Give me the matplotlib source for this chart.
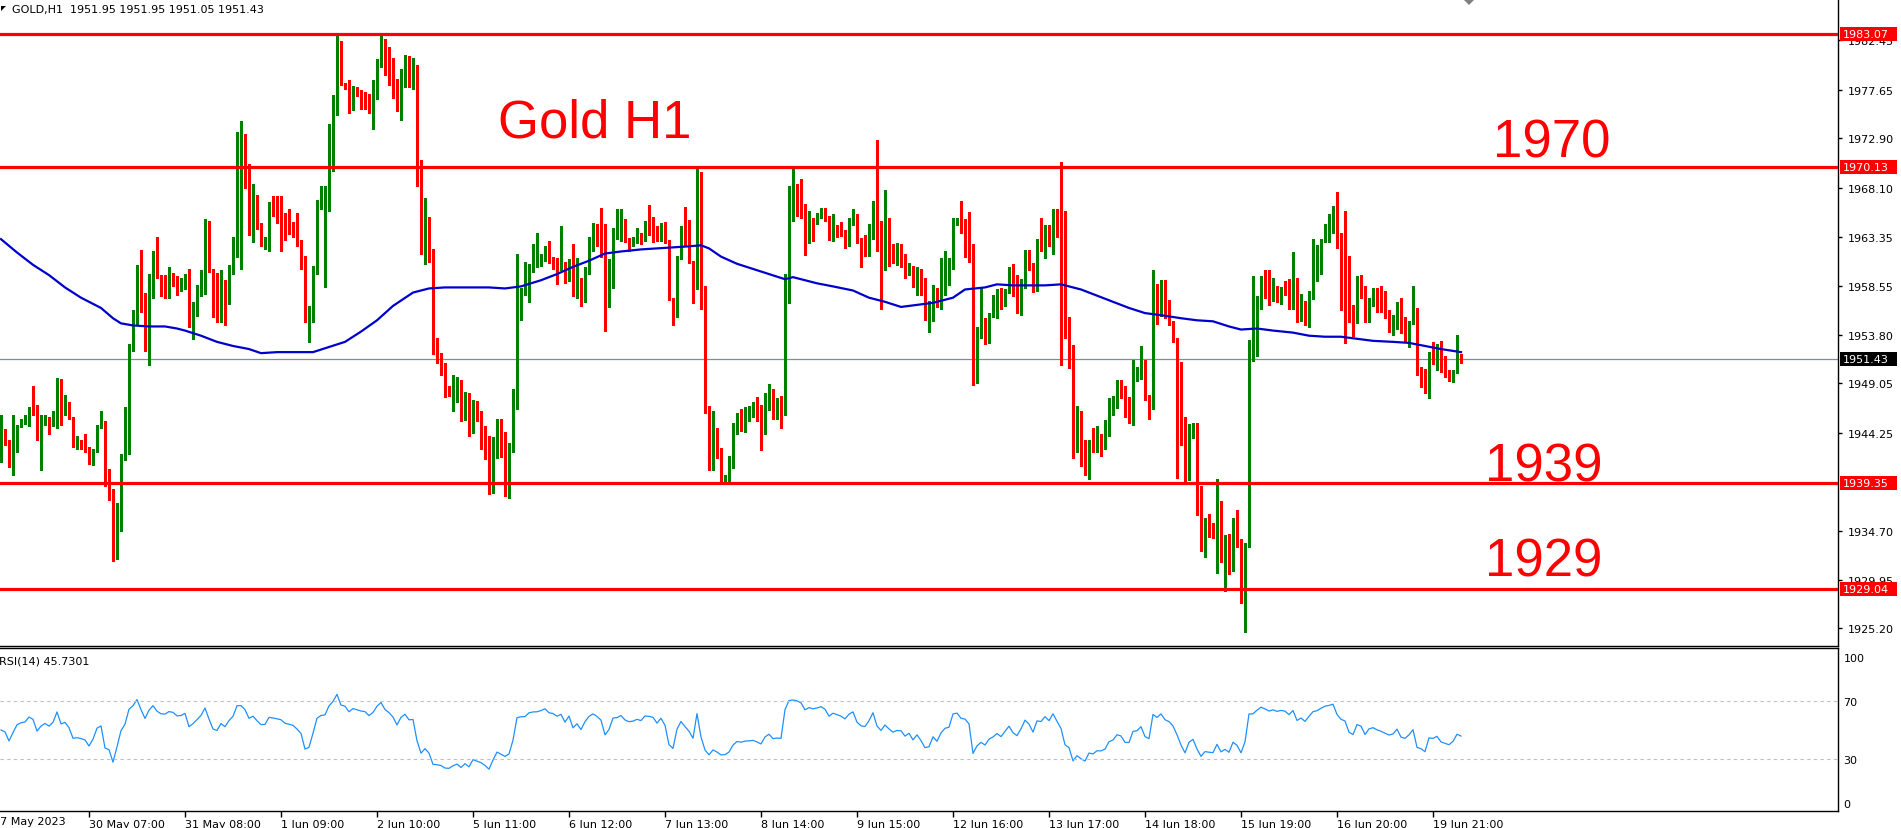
import numpy as np
import matplotlib.pyplot as plt
from matplotlib.patches import Polygon, Rectangle

# ---- data (GOLD, H1) ----
first_open = 1942.9

closes = [
    1943.9, 1943.5, 1941.4, 1943.1, 1944.9, 1945.4, 1945.6, 1946.8, 1946.4, 1944.1,
    1945.2, 1945.8, 1945.3, 1946.1, 1948.7, 1946.4, 1946.8, 1945.7, 1943.2, 1943.3,
    1943.1, 1942.8, 1941.3, 1942.5, 1944.7, 1945.2, 1939.3, 1938.7, 1933.1, 1936.9,
    1942.2, 1944.8, 1952.8, 1955.2, 1960.0, 1956.2, 1952.4, 1958.2, 1961.9, 1959.5,
    1958.3, 1958.2, 1959.8, 1959.5, 1958.2, 1958.4, 1959.5, 1954.6, 1956.0, 1957.9,
    1960.0, 1964.3, 1960.2, 1955.8, 1955.1, 1958.5, 1957.1, 1960.2, 1962.6, 1969.7,
    1969.8, 1968.3, 1964.9, 1966.1, 1964.3, 1962.7, 1962.8, 1966.2, 1966.0, 1965.7,
    1965.4, 1964.3, 1964.0, 1963.7, 1962.6, 1961.3, 1955.3, 1955.8, 1960.1, 1966.4,
    1967.8, 1968.1, 1973.1, 1976.1, 1981.9, 1978.2, 1977.8, 1975.8, 1977.8, 1977.4,
    1977.0, 1976.8, 1975.6, 1977.1, 1980.2, 1982.4, 1980.4, 1979.5, 1978.2, 1975.7,
    1978.9, 1980.3, 1978.6, 1978.7, 1970.6, 1963.2, 1964.9, 1961.9, 1952.0, 1951.6,
    1950.8, 1948.2, 1947.9, 1948.7, 1949.2, 1946.3, 1947.4, 1944.8, 1946.9, 1945.8,
    1944.8, 1942.7, 1939.7, 1942.2, 1944.6, 1943.3, 1942.0, 1942.7, 1947.0, 1957.4,
    1957.9, 1958.0, 1960.1, 1960.6, 1960.7, 1961.3, 1962.2, 1961.1, 1960.9, 1960.2,
    1960.9, 1958.9, 1961.1, 1957.7, 1959.1, 1957.3, 1960.1, 1962.2, 1963.3, 1962.6,
    1961.6, 1956.9, 1958.7, 1963.3, 1963.5, 1964.4, 1963.1, 1962.6, 1962.8, 1963.4,
    1963.1, 1964.6, 1964.5, 1964.3, 1963.1, 1964.4, 1962.9, 1957.3, 1955.9, 1961.4,
    1964.3, 1962.6, 1961.0, 1958.3, 1969.4, 1957.4, 1946.9, 1941.9, 1944.6, 1942.5,
    1939.7, 1939.8, 1941.0, 1944.3, 1946.1, 1945.6, 1946.1, 1946.2, 1946.4, 1945.6,
    1944.6, 1947.1, 1948.1, 1946.2, 1946.4, 1946.3, 1959.3, 1966.5, 1967.0, 1966.7,
    1966.0, 1963.6, 1965.0, 1964.6, 1965.1, 1965.8, 1965.1, 1963.1, 1964.4, 1964.0,
    1963.6, 1962.9, 1964.6, 1965.5, 1962.9, 1961.9, 1961.7, 1963.5, 1966.3, 1962.7,
    1961.3, 1963.1, 1961.9, 1960.9, 1961.4, 1961.3, 1959.8, 1960.5, 1958.6, 1959.8,
    1958.1, 1955.7, 1955.9, 1958.2, 1956.8, 1958.9, 1960.2, 1960.5, 1964.8, 1965.1,
    1963.9, 1963.7, 1962.6, 1951.8, 1954.1, 1955.2, 1954.0, 1955.8, 1956.5, 1957.6,
    1956.5, 1958.1, 1959.8, 1957.7, 1956.7, 1958.8, 1961.9, 1960.7, 1958.1, 1962.3,
    1962.1, 1964.1, 1962.9, 1965.8, 1963.5, 1961.1, 1953.9, 1952.3, 1942.9, 1944.8,
    1942.4, 1940.4, 1943.3, 1942.7, 1943.8, 1943.7, 1944.3, 1946.7, 1947.3, 1949.1,
    1948.6, 1946.0, 1945.9, 1949.5, 1949.7, 1951.1, 1947.6, 1946.8, 1956.9, 1955.8,
    1957.7, 1955.6, 1954.9, 1953.3, 1949.7, 1944.6, 1939.6, 1943.8, 1945.1, 1939.0,
    1933.1, 1935.1, 1934.6, 1934.3, 1937.6, 1932.4, 1933.4, 1931.4, 1935.5, 1933.6,
    1928.3, 1933.2, 1952.6, 1952.8, 1956.3, 1959.3, 1958.4, 1957.3, 1958.3, 1957.6,
    1958.3, 1958.0, 1956.6, 1959.2, 1955.1, 1956.5, 1955.1, 1957.9, 1960.8, 1961.4,
    1962.9, 1964.2, 1964.7, 1965.4, 1962.3, 1960.7, 1960.1, 1956.0, 1955.0, 1959.0,
    1958.4, 1955.1, 1957.3, 1957.8, 1957.0, 1956.5, 1955.8, 1955.2, 1955.5, 1956.9,
    1954.4, 1954.0, 1954.9, 1956.3, 1950.1, 1949.5, 1948.2, 1952.0, 1951.8, 1952.4,
    1950.4, 1949.9, 1949.4, 1950.2, 1951.95, 1951.43,
]

highs = [
    1946.0, 1944.6, 1943.5, 1946.0, 1945.0, 1945.6, 1946.0, 1946.8, 1948.8, 1947.0,
    1946.0, 1946.0, 1945.8, 1946.4, 1949.6, 1949.5, 1947.9, 1947.2, 1945.8, 1943.9,
    1943.5, 1944.1, 1942.9, 1942.7, 1945.0, 1946.4, 1945.4, 1940.7, 1938.8, 1937.4,
    1942.2, 1946.8, 1952.9, 1956.2, 1960.6, 1962.0, 1957.9, 1959.7, 1961.9, 1963.3,
    1959.6, 1959.6, 1960.4, 1959.8, 1959.3, 1959.3, 1959.7, 1960.2, 1957.0, 1958.6,
    1960.1, 1965.1, 1964.9, 1960.2, 1959.8, 1960.1, 1959.1, 1960.6, 1963.3, 1973.5,
    1974.6, 1973.3, 1970.4, 1968.5, 1967.4, 1964.7, 1963.3, 1966.7, 1967.3, 1967.3,
    1967.3, 1965.6, 1966.0, 1964.8, 1965.6, 1963.0, 1961.5, 1956.6, 1960.5, 1966.9,
    1968.3, 1968.3, 1974.3, 1977.1, 1982.9, 1982.4, 1978.3, 1978.6, 1978.0, 1977.9,
    1977.6, 1977.4, 1977.2, 1978.6, 1980.6, 1983.2, 1982.6, 1981.8, 1980.7, 1978.7,
    1979.7, 1981.0, 1980.9, 1980.7, 1980.1, 1970.8, 1967.1, 1965.3, 1962.1, 1953.5,
    1952.0, 1951.0, 1948.8, 1949.9, 1949.7, 1949.4, 1948.2, 1948.1, 1947.4, 1947.3,
    1946.4, 1944.9, 1943.9, 1943.8, 1945.6, 1945.6, 1944.3, 1943.3, 1948.5, 1961.7,
    1958.3, 1960.9, 1960.7, 1962.6, 1963.7, 1961.7, 1962.4, 1962.9, 1961.4, 1961.3,
    1964.4, 1960.9, 1961.2, 1962.6, 1961.3, 1959.3, 1960.4, 1963.3, 1964.7, 1964.6,
    1966.1, 1964.6, 1961.2, 1964.2, 1966.0, 1966.0, 1965.1, 1963.2, 1963.3, 1964.2,
    1963.7, 1964.9, 1966.4, 1965.3, 1964.4, 1964.7, 1964.8, 1963.0, 1957.4, 1961.5,
    1964.4, 1966.2, 1965.0, 1961.0, 1969.9, 1969.6, 1958.5, 1946.9, 1946.4, 1944.7,
    1942.8, 1940.1, 1942.0, 1945.2, 1946.2, 1946.6, 1946.8, 1946.9, 1947.2, 1947.7,
    1947.0, 1948.1, 1949.0, 1948.5, 1947.6, 1947.8, 1959.7, 1968.3, 1970.0, 1968.5,
    1969.0, 1966.5, 1965.8, 1965.2, 1965.6, 1966.1, 1966.1, 1965.4, 1965.5, 1964.5,
    1964.8, 1964.0, 1965.2, 1966.0, 1965.5, 1963.2, 1963.5, 1964.6, 1966.8, 1972.8,
    1964.9, 1967.9, 1965.2, 1962.6, 1962.7, 1962.6, 1961.7, 1960.8, 1960.4, 1960.4,
    1960.2, 1959.3, 1957.1, 1958.6, 1958.3, 1961.3, 1961.9, 1961.3, 1965.2, 1965.2,
    1966.8, 1965.1, 1965.7, 1962.6, 1954.5, 1958.4, 1955.4, 1955.9, 1957.7, 1958.2,
    1958.3, 1958.2, 1960.4, 1960.7, 1959.6, 1959.2, 1962.0, 1962.0, 1960.8, 1963.1,
    1965.2, 1964.5, 1964.5, 1966.0, 1966.0, 1970.6, 1965.8, 1955.5, 1952.8, 1946.9,
    1946.4, 1943.5, 1943.5, 1944.7, 1944.9, 1944.1, 1945.5, 1947.6, 1947.8, 1949.4,
    1949.4, 1948.8, 1947.7, 1951.3, 1950.7, 1952.7, 1951.3, 1947.9, 1960.1, 1958.7,
    1959.1, 1959.1, 1957.2, 1955.1, 1953.5, 1951.1, 1945.8, 1945.1, 1945.2, 1945.2,
    1939.1, 1936.0, 1936.3, 1935.5, 1939.7, 1937.6, 1934.3, 1934.4, 1936.0, 1936.7,
    1933.9, 1933.5, 1953.3, 1959.5, 1957.6, 1959.5, 1960.1, 1960.1, 1959.3, 1958.5,
    1958.4, 1959.0, 1959.2, 1961.8, 1959.3, 1957.8, 1957.1, 1958.1, 1963.1, 1962.5,
    1963.1, 1964.6, 1965.5, 1966.3, 1967.7, 1963.7, 1965.8, 1961.5, 1956.7, 1959.5,
    1959.6, 1958.5, 1957.4, 1958.3, 1958.3, 1958.5, 1958.1, 1956.2, 1955.7, 1957.0,
    1957.4, 1955.5, 1955.1, 1958.5, 1956.4, 1950.7, 1950.5, 1952.1, 1953.1, 1952.9,
    1953.2, 1951.7, 1950.4, 1950.4, 1953.8, 1951.95,
]

lows = [
    1941.4, 1943.1, 1940.9, 1940.1, 1942.4, 1944.8, 1945.1, 1944.9, 1946.0, 1943.5,
    1940.6, 1945.0, 1944.1, 1944.9, 1944.7, 1945.0, 1946.0, 1945.6, 1942.9, 1942.7,
    1942.7, 1942.4, 1941.2, 1941.1, 1942.4, 1944.7, 1939.1, 1937.7, 1931.8, 1932.0,
    1934.7, 1941.6, 1942.2, 1952.2, 1954.7, 1956.0, 1952.2, 1950.8, 1957.4, 1959.3,
    1957.6, 1957.4, 1957.4, 1958.5, 1957.7, 1958.1, 1958.2, 1954.5, 1953.4, 1955.6,
    1957.6, 1957.8, 1959.9, 1955.5, 1955.0, 1955.0, 1954.7, 1956.8, 1959.7, 1961.4,
    1960.2, 1968.1, 1963.5, 1962.8, 1964.1, 1962.4, 1962.1, 1961.9, 1965.4, 1964.7,
    1961.9, 1963.0, 1963.6, 1963.3, 1962.4, 1960.2, 1955.0, 1953.1, 1955.0, 1959.7,
    1966.0, 1958.4, 1965.8, 1969.7, 1975.2, 1978.1, 1977.7, 1975.4, 1975.7, 1977.0,
    1975.8, 1975.8, 1975.4, 1973.8, 1976.7, 1979.9, 1979.1, 1978.1, 1976.8, 1975.6,
    1974.7, 1977.9, 1977.9, 1977.7, 1968.3, 1961.7, 1960.7, 1960.9, 1951.9, 1951.0,
    1949.9, 1947.7, 1947.8, 1946.4, 1947.2, 1945.4, 1945.5, 1943.9, 1944.2, 1945.4,
    1942.7, 1941.7, 1938.3, 1938.4, 1941.8, 1941.9, 1938.1, 1937.9, 1942.4, 1946.6,
    1955.2, 1957.7, 1957.0, 1959.9, 1960.4, 1960.5, 1961.0, 1960.8, 1960.2, 1958.7,
    1960.1, 1958.8, 1959.0, 1957.6, 1957.4, 1956.6, 1957.0, 1959.7, 1961.9, 1962.4,
    1961.4, 1954.2, 1956.5, 1958.3, 1963.1, 1962.9, 1962.8, 1961.9, 1962.4, 1962.7,
    1962.6, 1962.9, 1963.5, 1962.8, 1962.9, 1962.9, 1962.7, 1957.2, 1954.7, 1955.5,
    1961.2, 1962.4, 1960.8, 1956.9, 1958.2, 1956.3, 1946.2, 1940.6, 1940.6, 1941.8,
    1939.5, 1939.5, 1939.5, 1940.8, 1944.1, 1944.4, 1944.3, 1945.4, 1945.8, 1945.4,
    1942.6, 1944.1, 1946.5, 1945.6, 1945.6, 1944.7, 1946.0, 1956.9, 1964.9, 1965.4,
    1965.2, 1961.6, 1962.7, 1962.9, 1964.6, 1965.2, 1964.9, 1963.0, 1962.9, 1963.3,
    1963.4, 1962.2, 1962.4, 1964.5, 1962.7, 1960.4, 1961.5, 1961.5, 1963.1, 1961.9,
    1956.3, 1960.1, 1960.5, 1960.8, 1960.6, 1960.4, 1959.3, 1959.6, 1958.4, 1957.7,
    1957.7, 1955.2, 1954.1, 1955.1, 1956.5, 1956.3, 1957.7, 1958.6, 1960.2, 1964.5,
    1963.7, 1961.4, 1960.9, 1948.9, 1949.1, 1953.5, 1952.9, 1953.0, 1955.5, 1955.4,
    1956.3, 1956.8, 1957.9, 1957.6, 1955.9, 1955.7, 1958.3, 1960.1, 1958.0, 1958.1,
    1961.9, 1961.3, 1962.4, 1961.7, 1963.3, 1950.8, 1953.5, 1950.6, 1941.8, 1942.4,
    1941.0, 1940.1, 1939.7, 1942.4, 1942.4, 1942.0, 1942.7, 1943.9, 1946.0, 1946.7,
    1947.6, 1945.8, 1945.2, 1945.0, 1949.3, 1949.5, 1947.4, 1945.6, 1946.6, 1954.8,
    1955.6, 1955.4, 1954.7, 1953.1, 1939.8, 1943.1, 1939.5, 1941.1, 1943.7, 1936.2,
    1932.7, 1932.2, 1934.1, 1934.0, 1930.6, 1931.7, 1928.8, 1930.5, 1930.8, 1933.1,
    1927.7, 1924.9, 1933.1, 1951.2, 1951.7, 1956.3, 1957.4, 1956.7, 1957.1, 1957.0,
    1956.8, 1957.7, 1956.3, 1956.3, 1955.0, 1955.1, 1954.7, 1954.5, 1957.3, 1959.0,
    1959.7, 1962.8, 1962.8, 1963.7, 1962.2, 1956.2, 1953.0, 1955.0, 1953.7, 1954.9,
    1957.4, 1955.0, 1955.0, 1956.6, 1956.0, 1956.0, 1955.4, 1954.1, 1953.8, 1954.4,
    1954.0, 1953.1, 1952.6, 1954.8, 1949.9, 1948.7, 1948.1, 1947.6, 1950.9, 1950.4,
    1950.2, 1949.7, 1949.3, 1949.2, 1950.1, 1951.05,
]

# moving average (blue line), read at a set of bars
ma_bars = [0, 4, 8, 12, 16, 20, 25, 28, 30, 33, 37, 41, 44, 46, 50, 54, 58, 62, 65, 69,
           73, 78, 82, 86, 90, 94, 98, 103, 107, 111, 115, 122, 126, 130, 135, 139, 143, 147, 151, 155,
           160, 164, 168, 172, 175, 177, 180, 184, 188, 192, 196, 198, 204, 208, 213, 217, 221, 225, 229, 233,
           238, 241, 246, 249, 253, 257, 261, 265, 270, 274, 278, 282, 286, 290, 295, 299, 303, 307, 310, 314,
           318, 323, 327, 331, 335, 339, 343, 348, 352, 356, 360, 365]
ma_values = [1963.1, 1961.8, 1960.6, 1959.6, 1958.4, 1957.4, 1956.4, 1955.4, 1954.9, 1954.7,
             1954.6, 1954.6, 1954.4, 1954.2, 1953.7, 1953.1, 1952.7, 1952.4, 1952.0, 1952.1,
             1952.1, 1952.1, 1952.6, 1953.1, 1954.1, 1955.2, 1956.6, 1957.9, 1958.3, 1958.4,
             1958.4, 1958.4, 1958.3, 1958.5, 1959.1, 1959.7, 1960.4, 1961.0, 1961.7, 1961.9,
             1962.1, 1962.2, 1962.3, 1962.4, 1962.5, 1962.2, 1961.4, 1960.7, 1960.2, 1959.7,
             1959.2, 1959.4, 1958.8, 1958.5, 1958.1, 1957.4, 1957.0, 1956.5, 1956.7, 1956.9,
             1957.4, 1958.2, 1958.4, 1958.7, 1958.6, 1958.6, 1958.6, 1958.7, 1958.2, 1957.6,
             1957.0, 1956.4, 1955.9, 1955.7, 1955.4, 1955.2, 1955.1, 1954.6, 1954.3, 1954.4,
             1954.2, 1954.0, 1953.7, 1953.6, 1953.6, 1953.4, 1953.2, 1953.1, 1953.0, 1952.7,
             1952.4, 1952.1]

levels = [1983.07, 1970.13, 1939.35, 1929.04]
level_names = ["1970", "1939", "1929"]
current_price = 1951.43

price_ticks = [1982.45, 1977.65, 1972.90, 1968.10, 1963.35, 1958.55, 1953.80,
               1949.05, 1944.25, 1934.70, 1929.95, 1925.20]
rsi_ticks = [0, 30, 70, 100]

date_bars = [-2, 22, 46, 70, 94, 118, 142, 166, 190, 214, 238, 262, 286, 310, 334, 358]
date_labels = ["27 May 2023", "30 May 07:00", "31 May 08:00", "1 Jun 09:00", "2 Jun 10:00",
               "5 Jun 11:00", "6 Jun 12:00", "7 Jun 13:00", "8 Jun 14:00", "9 Jun 15:00",
               "12 Jun 16:00", "13 Jun 17:00", "14 Jun 18:00", "15 Jun 19:00",
               "16 Jun 20:00", "19 Jun 21:00"]

assert len(closes) == len(highs) == len(lows) == 366
assert len(ma_bars) == len(ma_values)

closes = np.array(closes)
highs = np.array(highs)
lows = np.array(lows)
opens = np.r_[first_open, closes[:-1]]
opens[-1] = 1951.95
bars = np.arange(len(closes))


def wilder_rsi(values, period=14):
    diff = np.diff(values, prepend=values[0])
    gain = np.clip(diff, 0, None)
    loss = np.clip(-diff, 0, None)
    seed = np.abs(diff[1:period + 1]).mean() / 2
    ag, al = seed, seed
    out = np.empty(len(values))
    out[0] = 50.0
    for k in range(1, len(values)):
        ag = (ag * (period - 1) + gain[k]) / period
        al = (al * (period - 1) + loss[k]) / period
        out[k] = 100 - 100 / (1 + ag / al)
    return out


rsi = wilder_rsi(closes)

# ---- layout (pixel based, MT4 look) ----
W, H = 1901, 829
SMALL = 8
fig = plt.figure(figsize=(W / 100, H / 100), dpi=100)
fig.patch.set_facecolor("white")


def box(left, top, right, bottom):
    return [left / W, 1 - bottom / H, (right - left) / W, (bottom - top) / H]


PRICE_BOTTOM = 647
ax = fig.add_axes(box(0, 0, 1838, PRICE_BOTTOM))
rx = fig.add_axes(box(0, 649, 1838, 812))

xlim = (-0.25, (1838 - 1) / 4)
ylim = (1923.49, 1986.48)
ax.set_xlim(*xlim)
ax.set_ylim(*ylim)
rx.set_xlim(*xlim)
rx.set_ylim(-5.48, 106.16)

for a in (ax, rx):
    a.set_facecolor("white")
    a.spines["left"].set_visible(False)
    for s in a.spines.values():
        s.set_linewidth(1.0)
        s.set_color("black")
ax.spines["top"].set_visible(False)

# candles
up = closes >= opens
colors = np.where(up, "#008000", "#ff0000")
ax.vlines(bars, lows, highs, colors=colors, linewidth=1.0, antialiased=False, zorder=3)
body_low = np.minimum(opens, closes)
body_h = np.maximum(np.abs(closes - opens), 0.09)
ax.bar(bars, body_h, bottom=body_low, width=0.75, color=colors, linewidth=0,
       antialiased=False, zorder=4)

# moving average
ax.plot(ma_bars, ma_values, color="#0000cd", linewidth=1.6, zorder=5)

# levels and current price line
for lv in levels:
    ax.axhline(lv, color="#ff0000", linewidth=2.3, zorder=6)
ax.axhline(current_price, color="#7f8c9a", linewidth=0.9, zorder=2)

# price axis on the right
ax.yaxis.tick_right()
ax.set_yticks(price_ticks)
ax.set_yticklabels([f"{v:.2f}" for v in price_ticks])
ax.tick_params(axis="y", direction="out", length=3, width=1, pad=4, labelsize=SMALL,
               colors="black")
ax.set_xticks([])


def price_to_px(v):
    return (ylim[1] - v) / (ylim[1] - ylim[0]) * PRICE_BOTTOM


def price_box(v, fc):
    yc = price_to_px(v)
    fig.patches.append(Rectangle((1840 / W, 1 - (yc + 7) / H), 57 / W, 14 / H,
                                 transform=fig.transFigure, facecolor=fc,
                                 edgecolor="none", zorder=5))
    fig.text(1843 / W, 1 - yc / H, f"{v:.2f}", color="white", fontsize=SMALL,
             ha="left", va="center", zorder=6)


for lv in levels:
    price_box(lv, "#ff0000")
price_box(current_price, "black")

# big annotations
big = dict(color="#ff0000", fontsize=38, family="Liberation Sans", va="baseline")
fig.text(498 / W, 1 - 138 / H, "Gold H1", **big)
fig.text(1493 / W, 1 - 158 / H, level_names[0], **big)
fig.text(1485 / W, 1 - 482 / H, level_names[1], **big)
fig.text(1485 / W, 1 - 577 / H, level_names[2], **big)

# header
fig.text(12 / W, 1 - 10 / H, "GOLD,H1  1951.95 1951.95 1951.05 1951.43",
         fontsize=SMALL, ha="left", va="center", color="black")
fig.patches.append(Polygon([[1 / W, 1 - 7 / H], [6 / W, 1 - 7 / H], [1 / W, 1 - 12 / H]],
                           closed=True, transform=fig.transFigure, facecolor="black",
                           edgecolor="none"))
fig.patches.append(Polygon([[1463 / W, 1.0], [1475 / W, 1.0], [1469 / W, 1 - 6 / H]],
                           closed=True, transform=fig.transFigure, facecolor="#808080",
                           edgecolor="none"))

# RSI panel
rx.plot(bars, rsi, color="#1e90ff", linewidth=0.9)
for lv in (30, 70):
    rx.axhline(lv, color="#c0c0c0", linewidth=0.8, linestyle=(0, (3, 3)))
rx.yaxis.tick_right()
rx.set_yticks(rsi_ticks)
rx.set_yticklabels([str(t) for t in rsi_ticks])
rx.tick_params(axis="y", length=0, pad=4, labelsize=SMALL, colors="black")
fig.text(-1 / W, 1 - 661 / H, "RSI(14) 45.7301", fontsize=SMALL, ha="left",
         va="center", color="black")

# time axis
rx.set_xticks(date_bars[1:])
rx.set_xticklabels(date_labels[1:])
rx.tick_params(axis="x", direction="out", length=4, width=1, pad=1.5, labelsize=SMALL,
               colors="black")
for lab in rx.get_xticklabels():
    lab.set_ha("left")
fig.text((1 + 4 * date_bars[0]) / W, 1 - 822 / H, date_labels[0], fontsize=SMALL,
         ha="left", va="center", color="black")

fig.savefig("out.png", dpi=100)
